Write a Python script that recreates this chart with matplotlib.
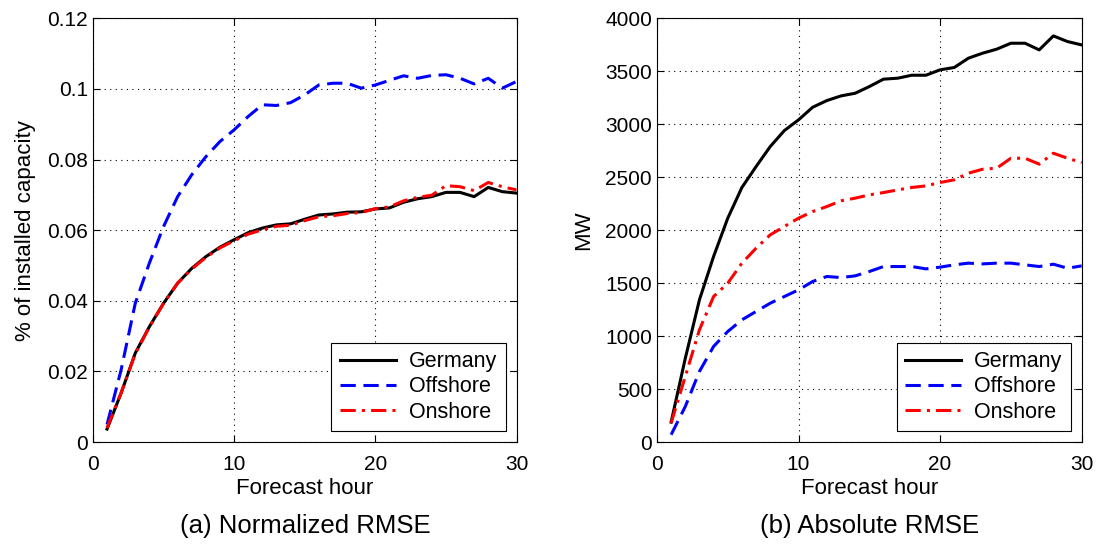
import matplotlib
matplotlib.use('Agg')
import matplotlib.pyplot as plt
import numpy as np

plt.rcParams.update({'font.size': 15, 'font.family': ['Liberation Sans', 'DejaVu Sans']})

# forecast hours 1..30
hours = np.arange(1, 31)

# (a) normalized RMSE (% of installed capacity)
norm_germany = [0.0037, 0.0139, 0.0252, 0.0327, 0.0393, 0.0450, 0.0492, 0.0525, 0.0552, 0.0573,
                0.0593, 0.0606, 0.0615, 0.0618, 0.0631, 0.0643, 0.0646, 0.0651, 0.0652, 0.0660,
                0.0663, 0.0679, 0.0689, 0.0695, 0.0707, 0.0707, 0.0695, 0.0721, 0.0709, 0.0705]
norm_offshore = [0.0050, 0.0205, 0.0393, 0.0507, 0.0610, 0.0695, 0.0757, 0.0808, 0.0851, 0.0884,
                 0.0922, 0.0955, 0.0953, 0.0961, 0.0983, 0.1011, 0.1016, 0.1016, 0.1002, 0.1011,
                 0.1024, 0.1037, 0.1030, 0.1038, 0.1040, 0.1030, 0.1014, 0.1030, 0.1002, 0.1021]
norm_onshore = [0.0040, 0.0140, 0.0250, 0.0326, 0.0392, 0.0450, 0.0490, 0.0523, 0.0550, 0.0570,
                0.0589, 0.0601, 0.0611, 0.0614, 0.0627, 0.0638, 0.0641, 0.0647, 0.0650, 0.0661,
                0.0666, 0.0683, 0.0693, 0.0699, 0.0726, 0.0723, 0.0712, 0.0735, 0.0723, 0.0714]

# (b) absolute RMSE (MW)
abs_germany = [189, 790, 1343, 1752, 2113, 2403, 2600, 2789, 2940, 3041,
               3160, 3223, 3267, 3292, 3355, 3425, 3434, 3462, 3462, 3513,
               3535, 3623, 3670, 3708, 3764, 3764, 3701, 3833, 3780, 3748]
abs_offshore = [70, 336, 667, 903, 1044, 1154, 1233, 1311, 1374, 1437,
                1516, 1563, 1553, 1569, 1610, 1657, 1657, 1657, 1635, 1651,
                1673, 1689, 1682, 1689, 1689, 1673, 1657, 1679, 1641, 1663]
abs_onshore = [180, 620, 1060, 1374, 1500, 1689, 1830, 1956, 2035, 2113,
               2176, 2223, 2277, 2302, 2333, 2355, 2380, 2403, 2418, 2450,
               2475, 2538, 2575, 2585, 2679, 2679, 2623, 2726, 2679, 2638]

series_names = ['Germany', 'Offshore', 'Onshore']

fig = plt.figure(figsize=(11.06, 5.52), dpi=100)
ax1 = fig.add_axes([0.084, 0.199, 0.383, 0.768])
ax2 = fig.add_axes([0.594, 0.199, 0.384, 0.768])

styles = [dict(color='black', lw=2.2, ls='-'),
          dict(color='#0000ff', lw=2.2, ls=(0, (5, 2.5))),
          dict(color='#ff0000', lw=2.2, ls=(0, (5, 2, 1, 2)))]

for ax, data in [(ax1, [norm_germany, norm_offshore, norm_onshore]),
                 (ax2, [abs_germany, abs_offshore, abs_onshore])]:
    for name, vals, st in zip(series_names, data, styles):
        ax.plot(hours, vals, label=name, **st)
    ax.set_xlim(0, 30)
    ax.set_xticks([0, 10, 20, 30])
    ax.grid(True, color='black', ls=(0, (1, 4)), lw=0.8)
    ax.tick_params(direction='in', top=True, right=True, length=5, labelsize=15)
    ax.tick_params(axis='x', pad=9)
    ax.set_xlabel('Forecast hour', fontsize=16, labelpad=3)
    for s in ax.spines.values():
        s.set_linewidth(0.8)
    leg = ax.legend(loc='lower right', fontsize=15.5, fancybox=False, framealpha=1,
                    edgecolor='black', handlelength=2.6, borderaxespad=0.5,
                    borderpad=0.4, labelspacing=0.2, handletextpad=0.6)
    leg.get_frame().set_linewidth(0.8)

ax1.set_ylim(0, 0.12)
ax1.set_yticks([0, 0.02, 0.04, 0.06, 0.08, 0.1, 0.12])
ax1.set_yticklabels(['0', '0.02', '0.04', '0.06', '0.08', '0.1', '0.12'])
ax1.set_ylabel('% of installed capacity', fontsize=16, labelpad=8)

ax2.set_ylim(0, 4000)
ax2.set_yticks(np.arange(0, 4001, 500))
ax2.set_ylabel('MW', fontsize=16, labelpad=8)

fig.text(0.276, 0.035, '(a) Normalized RMSE', ha='center', fontsize=18.5)
fig.text(0.786, 0.035, '(b) Absolute RMSE', ha='center', fontsize=18.5)

fig.savefig('out.png', dpi=100)
